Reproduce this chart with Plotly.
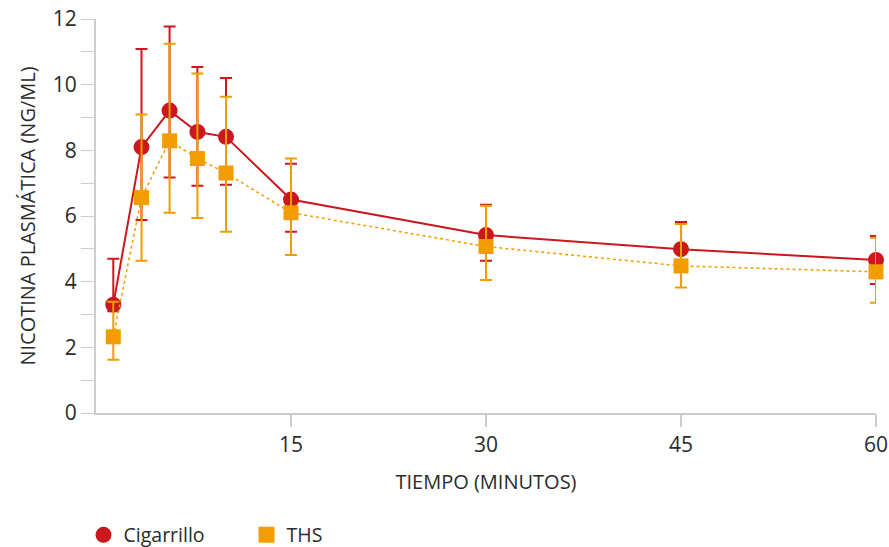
import plotly.graph_objects as go

# Data
tiempo = [1.33, 3.5, 5.66, 7.8, 10.0, 15, 30, 45, 60]

cig_val = [3.30, 8.10, 9.21, 8.56, 8.41, 6.50, 5.42, 4.99, 4.66]
cig_hi = [4.70, 11.09, 11.77, 10.54, 10.20, 7.59, 6.34, 5.82, 5.39]
cig_lo = [3.10, 5.88, 7.17, 6.92, 6.95, 5.52, 4.64, 4.40, 3.93]

ths_val = [2.32, 6.56, 8.29, 7.75, 7.31, 6.10, 5.07, 4.48, 4.30]
ths_hi = [3.39, 9.09, 11.25, 10.34, 9.63, 7.75, 6.31, 5.76, 5.34]
ths_lo = [1.62, 4.64, 6.10, 5.94, 5.52, 4.81, 4.05, 3.82, 3.36]

y_ticks = list(range(0, 13))
y_labels = [str(v) if v % 2 == 0 else "" for v in y_ticks]
x_ticks = [15, 30, 45, 60]

RED = "#CB171E"
ORANGE = "#F29C00"
TXT = "#2b2b2b"
GRID = "#cccccc"

fig = go.Figure()

fig.add_trace(go.Scatter(
    x=tiempo, y=cig_val, mode="lines+markers", name="Cigarrillo",
    line=dict(color=RED, width=2),
    marker=dict(symbol="circle", size=16, color=RED),
    error_y=dict(type="data", symmetric=False,
                 array=[h - v for h, v in zip(cig_hi, cig_val)],
                 arrayminus=[v - l for l, v in zip(cig_lo, cig_val)],
                 color=RED, thickness=2, width=6),
    showlegend=False, cliponaxis=False,
))

fig.add_trace(go.Scatter(
    x=tiempo, y=ths_val, mode="lines+markers", name="THS",
    line=dict(color=ORANGE, width=1.5, dash="dot"),
    marker=dict(symbol="square", size=15, color=ORANGE),
    error_y=dict(type="data", symmetric=False,
                 array=[h - v for h, v in zip(ths_hi, ths_val)],
                 arrayminus=[v - l for l, v in zip(ths_lo, ths_val)],
                 color=ORANGE, thickness=2, width=6),
    showlegend=False, cliponaxis=False,
))

# legend-only entries (markers only)
fig.add_trace(go.Scatter(x=[None], y=[None], mode="markers", name="Cigarrillo",
                         marker=dict(symbol="circle", size=16, color=RED)))
fig.add_trace(go.Scatter(x=[None], y=[None], mode="markers", name="THS",
                         marker=dict(symbol="square", size=16, color=ORANGE)))

fig.update_layout(
    width=889, height=547,
    margin=dict(l=96, r=13, t=19, b=134, autoexpand=False),
    paper_bgcolor="white", plot_bgcolor="white",
    font=dict(family="Open Sans", size=20, color=TXT),
    legend=dict(orientation="h", x=-0.016, xanchor="left", y=-0.31, yanchor="middle",
                font=dict(size=19.5, color=TXT), tracegroupgap=0,
                entrywidth=118),
    xaxis=dict(range=[0, 60], tickvals=x_ticks, ticks="outside", ticklen=12,
               tickcolor=GRID, tickwidth=2, showline=True, linecolor=GRID, linewidth=2,
               showgrid=False, zeroline=False, tickfont=dict(size=21), automargin=False,
               title=dict(text="TIEMPO (MINUTOS)", font=dict(size=20), standoff=18)),
    yaxis=dict(range=[0, 12], tickvals=y_ticks, ticktext=y_labels, ticks="outside",
               ticklen=13, tickcolor=GRID, tickwidth=1, showline=True, linecolor=GRID,
               linewidth=2, showgrid=False, zeroline=False, tickfont=dict(size=21),
               automargin=False,
               title=dict(text="NICOTINA PLASMÁTICA (NG/ML)", font=dict(size=20),
                          standoff=12)),
)

fig.write_html("out.html")
